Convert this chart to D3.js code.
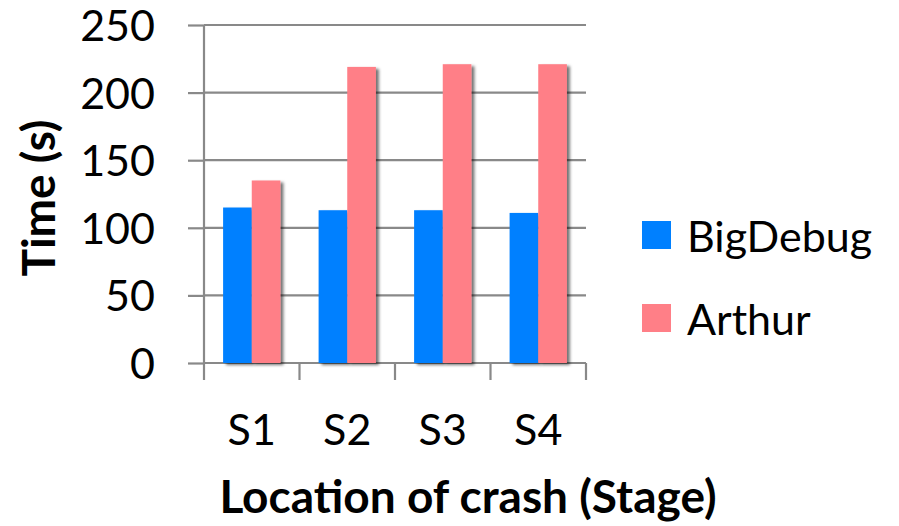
<!DOCTYPE html>
<html>
<head>
<meta charset="utf-8">
<script src="https://cdn.jsdelivr.net/npm/d3@7"></script>
<style>
  body { margin: 0; background: #fff; }
  text { font-family: Lato, "Open Sans", sans-serif; fill: #000; }
</style>
</head>
<body>
<div class="js-chart"></div>
<script>
'use strict';

// data
const stages = ['S1', 'S2', 'S3', 'S4'];
const seriesNames = ['BigDebug', 'Arthur'];
const bigDebug = [115, 113, 113, 111];
const arthur = [135, 219, 221, 221];
const yTicks = [0, 50, 100, 150, 200, 250];
const colors = ['#0080FF', '#FF7F87'];

const width = 899, height = 526;
const margin = { top: 25, right: 313, bottom: 163, left: 204 };
const graphWidth = width - margin.left - margin.right;
const graphHeight = height - margin.top - margin.bottom;

const svg = d3.select('.js-chart')
    .append('svg')
    .attr('width', width)
    .attr('height', height);

// drop shadow for bars
const filter = svg.append('defs').append('filter')
    .attr('id', 'shadow')
    .attr('x', '-20%').attr('y', '-5%')
    .attr('width', '160%').attr('height', '115%');
filter.append('feDropShadow')
    .attr('dx', 3).attr('dy', 2)
    .attr('stdDeviation', 1.8)
    .attr('flood-color', '#000')
    .attr('flood-opacity', 0.55);

const graph = svg.append('g')
    .attr('transform', `translate(${margin.left}, ${margin.top})`);

// scales
const x0 = d3.scaleBand().domain(stages).range([0, graphWidth]);
const x1 = d3.scaleBand().domain(seriesNames)
    .range([x0.bandwidth() * 0.2, x0.bandwidth() * 0.8]);
const y = d3.scaleLinear().domain([0, 250]).range([graphHeight, 0]);

// gridlines + y axis
const yAxis = d3.axisLeft(y).tickValues(yTicks).tickSize(16).tickPadding(33);
const yAxisGroup = graph.append('g').call(yAxis);
yAxisGroup.select('.domain').remove();
yAxisGroup.selectAll('line').attr('stroke', '#898989').attr('stroke-width', 2.2);
yAxisGroup.selectAll('text').style('font-size', '43px').attr('dy', '0.36em');

graph.append('g')
    .selectAll('line')
    .data(yTicks)
    .join('line')
    .attr('x1', 0)
    .attr('x2', graphWidth)
    .attr('y1', d => y(d))
    .attr('y2', d => y(d))
    .attr('stroke', '#898989')
    .attr('stroke-width', 2.2);

graph.append('line')
    .attr('x1', 0).attr('x2', 0)
    .attr('y1', 0).attr('y2', graphHeight)
    .attr('stroke', '#898989')
    .attr('stroke-width', 2.2);

// x axis
const xAxisGroup = graph.append('g')
    .attr('transform', `translate(0, ${graphHeight})`);
const xTicks = d3.range(stages.length + 1).map(i => i * x0.step());
xAxisGroup.selectAll('line')
    .data(xTicks)
    .join('line')
    .attr('x1', d => d).attr('x2', d => d)
    .attr('y1', 0).attr('y2', 17)
    .attr('stroke', '#898989')
    .attr('stroke-width', 2.2);
xAxisGroup.selectAll('text')
    .data(stages)
    .join('text')
    .attr('x', d => x0(d) + x0.bandwidth() / 2)
    .attr('y', 82)
    .attr('text-anchor', 'middle')
    .style('font-size', '43px')
    .text(d => d);

// bars
const rows = stages.map((s, i) => ({ stage: s, values: [bigDebug[i], arthur[i]] }));
const groups = graph.append('g')
    .selectAll('g')
    .data(rows)
    .join('g')
    .attr('transform', d => `translate(${x0(d.stage)}, 0)`);

groups.selectAll('rect')
    .data(d => d.values.map((v, i) => ({ name: seriesNames[i], value: v, color: colors[i] })))
    .join('rect')
    .attr('x', d => x1(d.name))
    .attr('width', x1.bandwidth())
    .attr('y', d => y(d.value))
    .attr('height', d => graphHeight - y(d.value))
    .attr('fill', d => d.color)
    .attr('filter', 'url(#shadow)');

// axis titles
svg.append('text')
    .attr('transform', 'translate(55, 198) rotate(-90)')
    .attr('text-anchor', 'middle')
    .style('font-size', '46px')
    .style('font-weight', 'bold')
    .text('Time (s)');

svg.append('text')
    .attr('x', 468)
    .attr('y', 513)
    .attr('text-anchor', 'middle')
    .style('font-size', '46px')
    .style('font-weight', 'bold')
    .text('Location of crash (Stage)');

// legend
const legend = svg.append('g')
    .attr('transform', 'translate(642, 221)')
    .selectAll('g')
    .data(seriesNames)
    .join('g')
    .attr('transform', (d, i) => `translate(0, ${i * 83})`);

legend.append('rect')
    .attr('width', 29)
    .attr('height', 28)
    .attr('fill', (d, i) => colors[i]);

legend.append('text')
    .attr('x', 45)
    .attr('y', 31)
    .style('font-size', '43px')
    .text(d => d);
</script>
</body>
</html>
